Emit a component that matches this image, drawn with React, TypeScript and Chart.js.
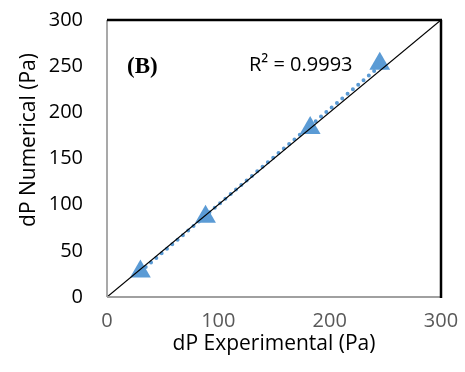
import React, { useEffect, useRef } from "react";
import { Chart, registerables } from "chart.js";

Chart.register(...registerables);

// Measured data (Pa)
const expX: number[] = [30, 88.5, 182.5, 245];
const numY: number[] = [27.5, 87, 183, 252.5];
// Trendline endpoints
const trendX: number[] = [30, 246];
const trendY: number[] = [27.5, 251];
// Reference y = x line
const refX: number[] = [0, 300];
const refY: number[] = [0, 300];
const xTicks: number[] = [0, 100, 200, 300];
const yTicks: number[] = [0, 50, 100, 150, 200, 250, 300];

const xTitle = "dP Experimental (Pa)";
const yTitle = "dP Numerical (Pa)";
const panelLabel = "(B)";
const r2Label = "R² = 0.9993";

const FONT = "'Open Sans', sans-serif";
const BLUE = "#5B9BD5";

const overlay = {
  id: "overlay",
  afterDraw(chart: any) {
    const { ctx, chartArea: a } = chart;
    ctx.save();
    // borders
    ctx.lineCap = "butt";
    ctx.strokeStyle = "#8C8C8C";
    ctx.lineWidth = 1.5;
    ctx.beginPath();
    ctx.moveTo(a.left, a.top);
    ctx.lineTo(a.left, a.bottom);
    ctx.stroke();
    ctx.lineWidth = 2;
    ctx.strokeStyle = "#A0A0A0";
    ctx.beginPath();
    ctx.moveTo(a.left, a.bottom);
    ctx.lineTo(a.right, a.bottom);
    ctx.stroke();
    ctx.strokeStyle = "#000";
    ctx.lineWidth = 2.5;
    ctx.beginPath();
    ctx.moveTo(a.left, a.top);
    ctx.lineTo(a.right + 1, a.top);
    ctx.moveTo(a.right, a.top);
    ctx.lineTo(a.right, a.bottom + 1);
    ctx.stroke();

    // texts
    ctx.fillStyle = "#000";
    ctx.textBaseline = "middle";
    ctx.font = `bold 23px 'Liberation Serif', serif`;
    ctx.textAlign = "left";
    ctx.fillText(panelLabel, 127, 67);
    ctx.font = `20px ${FONT}`;
    ctx.fillText(r2Label, 249, 65);

    // axis titles
    ctx.font = `21px ${FONT}`;
    ctx.textAlign = "center";
    ctx.fillText(xTitle, (a.left + a.right) / 2, 344);
    ctx.save();
    ctx.translate(29, 140);
    ctx.rotate(-Math.PI / 2);
    ctx.fillText(yTitle, 0, 0);
    ctx.restore();
    ctx.restore();
  },
};

export default function App() {
  const ref = useRef<HTMLCanvasElement>(null);
  useEffect(() => {
    if (!ref.current) return;
    const chart = new Chart(ref.current, {
      type: "scatter",
      data: {
        datasets: [
          {
            label: "y = x",
            data: refX.map((x, i) => ({ x, y: refY[i] })),
            showLine: true,
            borderColor: "#000",
            borderWidth: 1.2,
            pointRadius: 0,
          },
          {
            label: "Trend",
            data: trendX.map((x, i) => ({ x, y: trendY[i] })),
            showLine: true,
            borderColor: BLUE,
            borderWidth: 4,
            borderDash: [0, 7],
            borderCapStyle: "round",
            pointRadius: 0,
          },
          {
            label: "Data",
            data: expX.map((x, i) => ({ x, y: numY[i] })),
            pointStyle: "triangle",
            pointRadius: 12,
            backgroundColor: BLUE,
            borderColor: BLUE,
            borderWidth: 0,
          },
        ],
      },
      options: {
        animation: false,
        responsive: false,
        layout: { autoPadding: false, padding: { left: 0, top: 20, right: 24, bottom: 0 } },
        plugins: { legend: { display: false }, tooltip: { enabled: false } },
        scales: {
          x: {
            type: "linear",
            min: 0,
            max: 300,
            afterBuildTicks: (s: any) => {
              s.ticks = xTicks.map((v) => ({ value: v }));
            },
            afterFit: (s: any) => {
              s.height = 75;
              s.paddingLeft = 0;
              s.paddingRight = 0;
            },
            grid: { display: false, drawTicks: false },
            border: { display: false },
            ticks: {
              padding: 12,
              color: "#595959",
              font: { family: FONT, size: 20 },
              maxRotation: 0,
            },
          },
          y: {
            type: "linear",
            min: 0,
            max: 300,
            afterBuildTicks: (s: any) => {
              s.ticks = yTicks.map((v) => ({ value: v }));
            },
            afterFit: (s: any) => {
              s.width = 107;
              s.paddingTop = 0;
              s.paddingBottom = 0;
            },
            grid: { display: false, drawTicks: false },
            border: { display: false },
            ticks: {
              padding: 24,
              color: "#000",
              font: { family: FONT, size: 20 },
            },
          },
        },
      },
      plugins: [overlay],
    });
    return () => chart.destroy();
  }, []);
  return (
    <div style={{ position: "absolute", left: 0, top: 0, width: 465, height: 372, background: "#fff" }}>
      <canvas ref={ref} width={465} height={372} style={{ display: "block" }} />
    </div>
  );
}
